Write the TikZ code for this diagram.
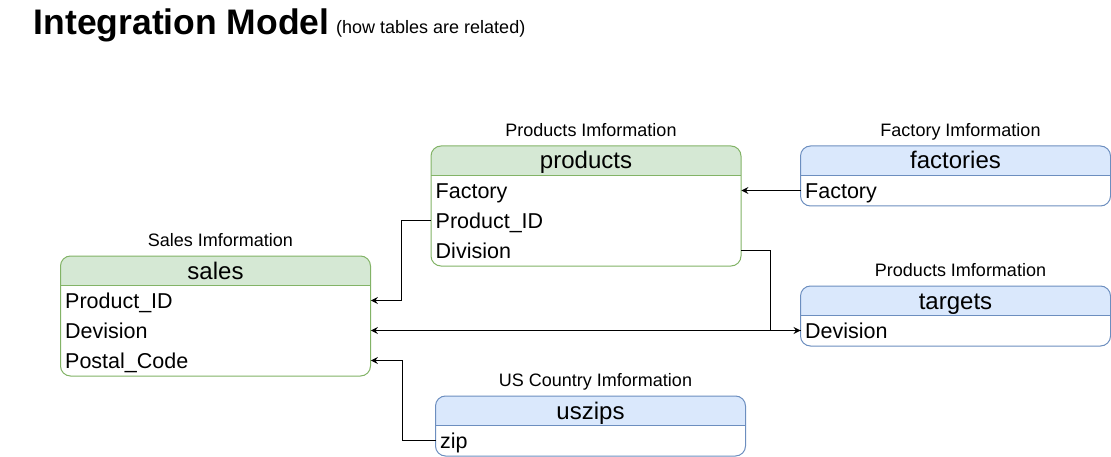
\documentclass[tikz,border=0pt]{standalone}
\usepackage{fontspec}
\setmainfont{Liberation Sans}
\usetikzlibrary{arrows.meta}
\definecolor{gfill}{HTML}{D5E8D4}
\definecolor{gline}{HTML}{82B366}
\definecolor{bfill}{HTML}{DAE8FC}
\definecolor{bline}{HTML}{6C8EBF}
\begin{document}
\begin{tikzpicture}[x=1pt, y=-1pt,
  tbl/.style n args={2}{draw=#2, line width=1pt, fill=white, rounded corners=10pt,
    minimum width=310pt, inner sep=0pt, anchor=north,
    path picture={
      \fill[#1, sharp corners] (path picture bounding box.north west) rectangle ([yshift=-29.5pt]path picture bounding box.north east);
      \draw[#2, line width=1pt, sharp corners] ([yshift=-29.5pt]path picture bounding box.north west) -- ([yshift=-29.5pt]path picture bounding box.north east);
    }},
  gtbl/.style={tbl={gfill}{gline}},
  btbl/.style={tbl={bfill}{bline}},
  hdr/.style={inner sep=0pt, anchor=base, font=\fontsize{24}{28}\selectfont},
  rowbox/.style={anchor=west, minimum width=310pt, minimum height=30pt, inner xsep=4.5pt, inner ysep=0pt,
    text width=301pt, align=left, text height=19.5pt, text depth=3pt, font=\fontsize{21.5}{25}\selectfont},
  lbl/.style={inner sep=0pt, anchor=base, font=\fontsize{18}{21}\selectfont},
  conn/.style={draw=black, line width=1pt, -{Stealth[length=7pt,width=7pt,inset=2.5pt]}}
]
\useasboundingbox (0,0) rectangle (1111,457);

% title
\node[inner sep=0pt, anchor=base west, font=\fontsize{35.5}{40}\selectfont\bfseries] (title) at (33.5,35) {Integration Model};
\node[inner sep=0pt, anchor=base west, font=\fontsize{18}{21}\selectfont] (subtitle) at (336,34) {(how tables are related)};

% products
\node[lbl] (products-l) at (591,136.5) {Products Imformation};
\node[gtbl, minimum height=120pt] (products) at (586,145.5) {};
\node[hdr] (products-h) at (586,169) {products};
\node[rowbox] (p-fac) at (431,190.5) {Factory};
\node[rowbox] (p-pid) at (431,220.5) {Product\_ID};
\node[rowbox] (p-div) at (431,250.5) {Division};

% factories
\node[lbl] (factories-l) at (960.5,136.5) {Factory Imformation};
\node[btbl, minimum height=60pt] (factories) at (955.5,145.5) {};
\node[hdr] (factories-h) at (955.5,169) {factories};
\node[rowbox] (f-fac) at (800.5,190.5) {Factory};

% sales
\node[lbl] (sales-l) at (220.5,246.5) {Sales Imformation};
\node[gtbl, minimum height=120pt] (sales) at (215.5,255.5) {};
\node[hdr] (sales-h) at (215.5,279) {sales};
\node[rowbox] (s-pid) at (60.5,300.5) {Product\_ID};
\node[rowbox] (s-dev) at (60.5,330.5) {Devision};
\node[rowbox] (s-pc) at (60.5,360.5) {Postal\_Code};

% targets
\node[lbl] (targets-l) at (960.5,276.5) {Products Imformation};
\node[btbl, minimum height=60pt] (targets) at (955.5,285.5) {};
\node[hdr] (targets-h) at (955.5,309) {targets};
\node[rowbox] (t-dev) at (800.5,330.5) {Devision};

% uszips
\node[lbl] (uszips-l) at (595.5,386.5) {US Country Imformation};
\node[btbl, minimum height=60pt] (uszips) at (590.5,395.5) {};
\node[hdr] (uszips-h) at (590.5,419) {uszips};
\node[rowbox] (u-zip) at (435.5,440.5) {zip};

% connectors
\draw[conn] (f-fac.west) -- (p-fac.east);
\draw[conn] (p-pid.west) -- ++(-30,0) |- (s-pid.east);
\draw[conn] (p-div.east) -- ++(29.5,0) |- (t-dev.west);
\draw[conn] (t-dev.west) -- (s-dev.east);
\draw[conn] (u-zip.west) -- ++(-33,0) |- (s-pc.east);
\end{tikzpicture}
\end{document}
